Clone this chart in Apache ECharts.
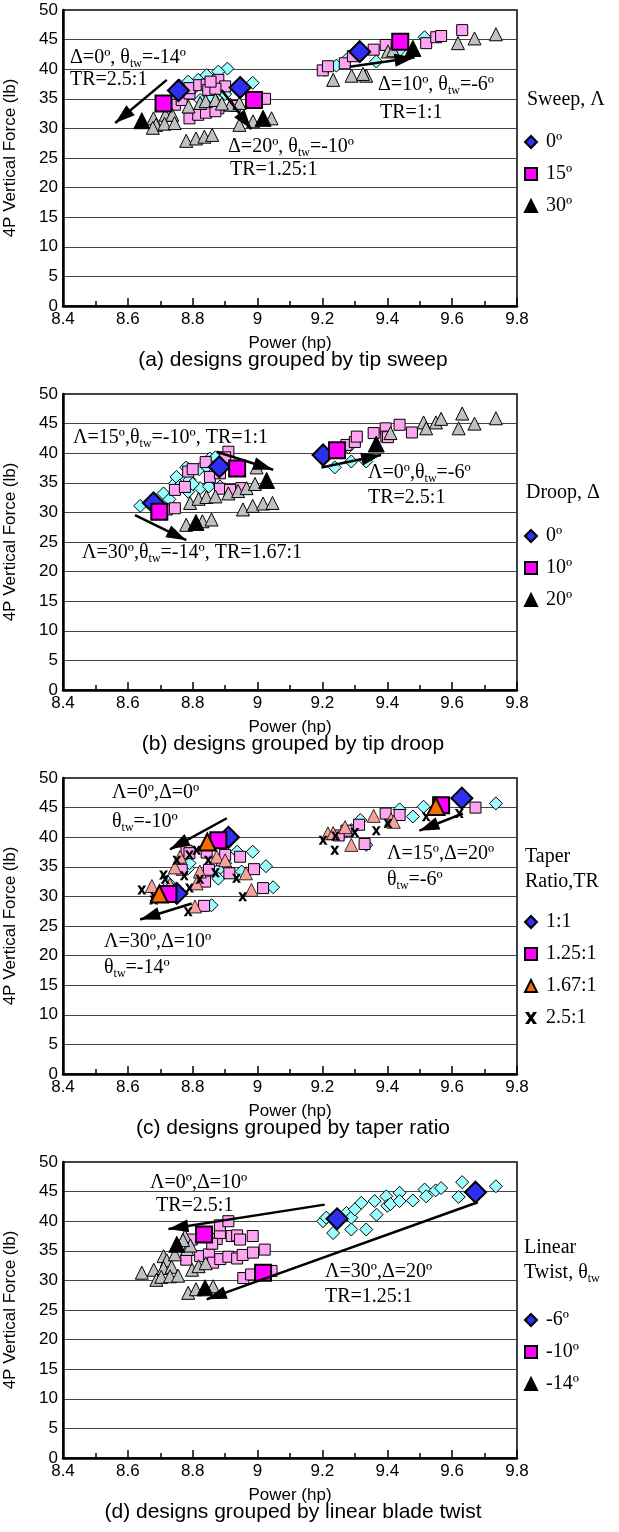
<!DOCTYPE html>
<html>
<head>
<meta charset="utf-8">
<title>4P vertical force vs power</title>
<script src="https://cdn.jsdelivr.net/npm/echarts@6/dist/echarts.min.js"></script>
<style>
  html, body { margin: 0; padding: 0; background: #fff; }
  #chart { width: 619px; height: 1532px; }
</style>
</head>
<body>
<div id="chart"></div>
<script>
// axes
const powerMin = 8.4, powerMax = 9.8, powerStep = 0.2;
const forceMin = 0, forceMax = 50, forceStep = 5;

// (a) tip sweep  [power hp, force lb]
const sweep0Small = [[8.907,40.1],[8.879,39.6],[8.843,39.0],[8.817,38.2],[8.786,37.9],[8.985,37.7],[8.884,36.5],[8.823,34.8],[8.86,35.2],[8.80,36.6],[8.76,37.2],[8.84,37.5],[8.90,35.8],
  [9.207,39.9],[9.243,40.6],[9.274,41.6],[9.366,41.3],[9.438,43.2],[9.515,45.4],[9.30,42.3]];
const sweep0Big = [[8.756,36.4],[8.946,36.9],[9.315,42.96]];
const sweep15Small = [[8.745,34.0],[8.766,34.8],[8.79,35.9],[8.79,36.8],[8.82,37.3],[8.843,37.4],[8.848,36.5],[8.879,38.2],[8.90,37.1],[8.87,36.7],[8.79,31.7],[8.817,32.3],[8.841,32.65],[8.879,33.4],[8.87,32.9],[8.93,33.8],[9.023,35.0],[8.855,37.9],
  [9.201,39.8],[9.217,40.5],[9.269,41.0],[9.294,42.2],[9.358,43.3],[9.395,44.1],[9.52,44.4],[9.551,45.4],[9.566,45.6],[9.631,46.6]];
const sweep15Big = [[8.71,34.2],[8.989,34.8],[9.44,44.65]];
const sweep30Small = [[8.679,31.7],[8.716,32.3],[8.737,32.3],[8.687,30.6],[8.713,30.8],[8.744,30.9],[8.677,30.1],[8.787,33.7],[8.823,34.3],[8.84,34.6],[8.87,34.8],[8.917,34.0],[8.944,34.3],[8.89,34.2],[8.78,27.9],[8.81,28.3],[8.836,28.6],[8.86,28.9],[8.944,30.6],[8.986,31.2],[9.043,31.7],
  [9.233,38.2],[9.29,38.9],[9.335,38.9],[9.325,39.2],[9.402,43.0],[9.418,43.2],[9.618,44.4],[9.669,45.2],[9.735,45.9]];
const sweep30Big = [[8.643,31.3],[9.017,31.7],[9.479,43.5]];
const sweepArrows = [[[8.72,38.2],[8.561,30.9]],[[8.889,36.5],[8.981,29.85]],[[9.284,40.4],[9.484,41.99]]];

// (b) tip droop
const droop0Small = [[8.638,31.1],[8.71,33.2],[8.728,32.2],[8.745,34.9],[8.75,36.0],[8.78,37.6],[8.79,35.5],[8.82,37.3],[8.843,37.7],[8.853,39.1],[8.87,39.3],[8.786,33.5],[8.823,34.1],[8.85,34.4],[8.884,34.4],[8.76,34.5],[8.80,34.8],
  [9.238,37.6],[9.289,38.6],[9.335,38.6],[9.28,41.0],[9.25,40.2]];
const droop0Big = [[8.679,31.6],[8.882,37.7],[9.202,39.7]];
const droop10Small = [[8.72,30.5],[8.745,30.7],[8.745,33.8],[8.776,34.3],[8.786,36.9],[8.80,37.3],[8.853,36.0],[8.884,36.6],[8.91,40.25],[8.884,34.0],[8.915,33.8],[8.95,34.1],[8.84,38.5],[8.90,39.3],
  [9.274,41.4],[9.30,41.9],[9.306,42.8],[9.358,43.4],[9.395,44.2],[9.397,42.8],[9.402,42.7],[9.438,44.8],[9.476,43.5]];
const droop10Big = [[8.697,30.1],[8.937,37.4],[9.245,40.5]];
const droop20Small = [[8.792,31.6],[8.818,32.3],[8.842,32.6],[8.87,32.7],[8.91,33.2],[8.94,33.6],[8.966,34.1],[8.992,34.8],[8.78,27.9],[8.83,28.5],[8.858,28.8],[8.955,30.5],[8.985,31.1],[9.017,31.5],[9.046,31.6],[8.997,37.6],
  [9.512,45.2],[9.55,45.2],[9.566,45.8],[9.631,46.7],[9.62,44.2],[9.669,45.0],[9.735,45.9],[9.52,44.2],[9.41,43.4]];
const droop20Big = [[8.81,28.3],[9.028,35.4],[9.366,41.55]];
const droopArrows = [[[8.874,40.25],[9.048,37.2]],[[8.622,29.55],[8.78,25.3]],[[9.197,37.6],[9.381,39.7]]];

// (c) taper ratio
const tr1Small = [[8.725,32.3],[8.786,34.75],[8.79,35.6],[8.879,34.5],[8.879,33.0],[8.937,37.55],[8.985,37.55],[8.951,34.2],[9.026,35.1],[9.048,31.55],[8.858,28.5],[8.90,35.6],
  [9.289,41.2],[9.317,42.9],[9.438,44.7],[9.479,43.5],[9.512,45.15],[9.735,45.7],[9.335,38.7],[9.27,40.9]];
const tr1Big = [[8.751,30.5],[8.91,39.98],[9.63,46.6]];
const tr125Small = [[8.781,37.7],[8.79,37.3],[8.766,34.5],[8.843,37.4],[8.85,34.5],[8.838,32.5],[8.89,36.1],[8.9,37.0],[8.913,33.9],[8.946,36.7],[8.989,34.6],[9.017,31.4],[8.835,28.4],
  [9.274,41.1],[9.313,42.1],[9.395,44.0],[9.438,43.75],[9.33,38.85],[9.672,45.0],[9.25,40.3]];
const tr125Big = [[8.725,30.4],[8.879,39.5],[9.566,45.4]];
const tr167Small = [[8.674,31.75],[8.745,34.9],[8.761,36.7],[8.812,32.2],[8.822,34.2],[8.874,36.7],[8.9,36.1],[8.964,33.9],[8.981,31.1],[8.807,28.3],[8.73,32.0],
  [9.217,40.65],[9.233,40.7],[9.27,41.7],[9.358,43.6],[9.412,43.0],[9.289,38.7],[9.42,42.6]];
const tr167Big = [[8.697,30.4],[8.845,39.2],[9.55,45.2]];
const tr25Small = [[8.643,31.1],[8.681,30.0],[8.68,29.4],[8.71,33.6],[8.715,32.9],[8.751,36.1],[8.79,37.0],[8.812,37.8],[8.848,36.1],[8.79,31.4],[8.774,33.5],[8.822,32.9],[8.87,34.0],[8.935,33.05],[8.954,29.95],[8.786,27.4],
  [9.202,39.5],[9.238,37.8],[9.24,40.2],[9.366,41.1],[9.402,42.3],[9.52,43.45],[9.622,44.0],[9.30,40.8]];
const taperArrows = [[[8.905,43.2],[8.73,37.95]],[[8.797,28.8],[8.638,26.1]],[[9.633,44.0],[9.499,41.1]]];

// (d) linear blade twist
const tw6Small = [[9.202,40.0],[9.212,40.6],[9.233,38.0],[9.274,41.4],[9.289,38.6],[9.289,40.6],[9.3,42.0],[9.32,43.1],[9.335,38.6],[9.361,43.4],[9.367,41.1],[9.397,44.2],[9.4,42.6],[9.41,42.9],[9.438,44.8],[9.438,43.4],[9.479,43.5],[9.515,45.35],[9.52,44.2],[9.549,45.2],[9.566,45.6],[9.62,44.1],[9.631,46.6],[9.735,45.9]];
const tw6Big = [[9.245,40.4],[9.672,44.9]];
const tw10Small = [[8.797,36.9],[8.874,37.0],[8.884,38.0],[8.884,39.3],[8.91,40.0],[8.92,37.5],[8.937,37.6],[8.946,36.9],[8.985,37.5],[8.78,33.5],[8.823,34.1],[8.85,34.4],[8.863,33.0],[8.885,33.6],[8.91,34.0],[8.937,33.7],[8.954,34.3],[8.986,34.7],[9.022,35.2],[8.86,36.2],[8.83,37.4],[8.956,30.4],[8.98,31.0],[9.043,31.6]];
const tw10Big = [[8.835,37.75],[9.017,31.3]];
const tw14Small = [[8.643,31.3],[8.68,31.8],[8.688,30.1],[8.71,34.1],[8.72,33.4],[8.71,32.1],[8.735,32.3],[8.703,30.6],[8.73,30.7],[8.755,30.8],[8.745,34.4],[8.776,37.5],[8.783,35.3],[8.793,35.9],[8.798,31.8],[8.818,32.4],[8.84,32.9],[8.786,27.9],[8.81,28.5],[8.863,29.0],[8.77,36.8]];
const tw14Big = [[8.751,36.1],[8.838,28.75]];
const twistArrows = [[[9.207,42.8],[8.725,38.7]],[[9.679,43.2],[8.843,26.8]]];

const captions = ['(a) designs grouped by tip sweep', '(b) designs grouped by tip droop',
  '(c) designs grouped by taper ratio', '(d) designs grouped by linear blade twist'];

// layout
const SANS = 'Liberation Sans, Arial, sans-serif';
const SERIF = 'Liberation Serif, Times New Roman, serif';
const panelTop = [10, 394, 778, 1162];
const plotLeft = 63, plotW = 454, plotH = 296;
const legendTop = [132, 526, 912, 1310];

const BLUE = '#2f2ff2', MAGENTA = '#ff00ff', BLACK = '#000', ORANGE = '#ff6a00';
const CYAN = '#9cffff', PINK = '#ffa4f2', GRAY = '#c0c0c0', SALMON = '#f6a39c';
const XMARK = 'path://M0,0H3.2L5,3L6.8,0H10L6.6,5L10,10H6.8L5,7L3.2,10H0L3.4,5Z';
const ARROW = 'path://M5,-20M5,0L10,20L0,20Z';

function pts(p, name, data, symbol, size, color, bw) {
  return {
    type: 'scatter', name, xAxisIndex: p, yAxisIndex: p, data, symbol, symbolSize: size,
    itemStyle: { color, borderColor: '#000', borderWidth: bw, opacity: 1 },
    emphasis: { disabled: true }, silent: true, animation: false
  };
}
function arrows(p, list) {
  return {
    type: 'lines', coordinateSystem: 'cartesian2d', xAxisIndex: p, yAxisIndex: p,
    data: list.map(c => ({ coords: c })),
    symbol: ['none', ARROW], symbolSize: [1, [13, 40]],
    lineStyle: { color: '#000', width: 2.5, opacity: 1 },
    silent: true, animation: false, z: 5
  };
}

const series = [
  pts(0, '0º a', sweep0Small, 'diamond', 13, CYAN, 1),
  pts(0, '15º a', sweep15Small, 'rect', 11, PINK, 1),
  pts(0, '30º a', sweep30Small, 'triangle', 13, GRAY, 1),
  pts(0, '0º', sweep0Big, 'diamond', 21, BLUE, 2),
  pts(0, '15º', sweep15Big, 'rect', 16, MAGENTA, 2),
  pts(0, '30º', sweep30Big, 'triangle', 16, BLACK, 1),
  arrows(0, sweepArrows),

  pts(1, '0º b', droop0Small, 'diamond', 13, CYAN, 1),
  pts(1, '10º b', droop10Small, 'rect', 11, PINK, 1),
  pts(1, '20º b', droop20Small, 'triangle', 13, GRAY, 1),
  pts(1, '0º', droop0Big, 'diamond', 21, BLUE, 2),
  pts(1, '10º', droop10Big, 'rect', 16, MAGENTA, 2),
  pts(1, '20º', droop20Big, 'triangle', 16, BLACK, 1),
  arrows(1, droopArrows),

  pts(2, '1:1 c', tr1Small, 'diamond', 13, CYAN, 1),
  pts(2, '1.25:1 c', tr125Small, 'rect', 11, PINK, 1),
  pts(2, '1.67:1 c', tr167Small, 'triangle', 13, SALMON, 0.8),
  pts(2, '2.5:1', tr25Small, XMARK, 9, BLACK, 0),
  pts(2, '1:1', tr1Big, 'diamond', 21, BLUE, 2),
  pts(2, '1.25:1', tr125Big, 'rect', 16, MAGENTA, 2),
  pts(2, '1.67:1', tr167Big, 'triangle', 17, ORANGE, 2),
  arrows(2, taperArrows),

  pts(3, '-6º d', tw6Small, 'diamond', 13, CYAN, 1),
  pts(3, '-10º d', tw10Small, 'rect', 11, PINK, 1),
  pts(3, '-14º d', tw14Small, 'triangle', 13, GRAY, 1),
  pts(3, '-6º', tw6Big, 'diamond', 21, BLUE, 2),
  pts(3, '-10º', tw10Big, 'rect', 16, MAGENTA, 2),
  pts(3, '-14º', tw14Big, 'triangle', 16, BLACK, 1),
  arrows(3, twistArrows)
];

const legendNames = [['0º', '15º', '30º'], ['0º', '10º', '20º'],
  ['1:1', '1.25:1', '1.67:1', '2.5:1'], ['-6º', '-10º', '-14º']];

// annotation texts: [text, left x, middle y]
const notes = [
  ['Δ=0º, θtw=-14º', 70, 58], ['TR=2.5:1', 70, 80],
  ['Δ=20º, θtw=-10º', 228, 147], ['TR=1.25:1', 230, 170],
  ['Δ=10º, θtw=-6º', 378, 85], ['TR=1:1', 380, 113],
  ['Λ=15º,θtw=-10º, TR=1:1', 73, 438], ['Λ=30º,θtw=-14º, TR=1.67:1', 82, 553],
  ['Λ=0º,θtw=-6º', 368, 473], ['TR=2.5:1', 368, 498],
  ['Λ=0º,Δ=0º', 112, 793], ['θtw=-10º', 112, 822],
  ['Λ=30º,Δ=10º', 104, 942], ['θtw=-14º', 104, 968],
  ['Λ=15º,Δ=20º', 387, 854], ['θtw=-6º', 387, 880],
  ['Λ=0º,Δ=10º', 150, 1183], ['TR=2.5:1', 156, 1206],
  ['Λ=30º,Δ=20º', 325, 1272], ['TR=1.25:1', 325, 1297],
  // legend titles
  ['Sweep, Λ', 527, 100], ['Droop, Δ', 526, 493],
  ['Taper', 525, 857], ['Ratio,TR', 525, 882],
  ['Linear', 524, 1248], ['Twist, θtw', 524, 1273]
];

function richify(s) {
  return '{n|' + s.replace(/θtw/g, 'θ}{s|tw}{n|') + '}';
}
const rich = {
  n: { fontFamily: SERIF, fontSize: 20, lineHeight: 24, fill: '#000' },
  s: { fontFamily: SERIF, fontSize: 12, lineHeight: 12, verticalAlign: 'bottom', fill: '#000' }
};

const graphic = notes.map(([t, x, y]) => ({
  type: 'text', x, y, silent: true,
  style: { text: richify(t), rich, align: 'left', verticalAlign: 'middle' }
})).concat(captions.map((c, i) => ({
  type: 'text', x: 293, y: panelTop[i] + 350, silent: true,
  style: { text: c, font: '21px ' + SANS, fill: '#000', align: 'center', verticalAlign: 'middle' }
})));

const labelStyle = { fontFamily: SANS, fontSize: 17, color: '#000' };

const option = {
  backgroundColor: '#fff',
  animation: false,
  grid: panelTop.map(t => ({
    left: plotLeft, top: t, width: plotW, height: plotH, show: true,
    borderColor: '#000', borderWidth: 1.5, backgroundColor: 'transparent',
    containLabel: false, outerBoundsMode: 'none'
  })),
  xAxis: panelTop.map((t, i) => ({
    gridIndex: i, type: 'value', min: powerMin, max: powerMax, interval: powerStep,
    name: 'Power (hp)', nameLocation: 'middle', nameGap: 29, nameTextStyle: labelStyle,
    axisLine: { show: true, onZero: false, lineStyle: { color: '#000', width: 2.5 } },
    axisTick: { show: true, inside: true, length: 8, lineStyle: { color: '#000', width: 1.5 } },
    minorTick: { show: true, splitNumber: 2, length: 5, lineStyle: { color: '#000', width: 1.5 } },
    splitLine: { show: false },
    axisLabel: Object.assign({ margin: 5, showMinLabel: true, showMaxLabel: true }, labelStyle)
  })),
  yAxis: panelTop.map((t, i) => ({
    gridIndex: i, type: 'value', min: forceMin, max: forceMax, interval: forceStep,
    name: '4P Vertical Force (lb)', nameLocation: 'middle', nameGap: 44, nameTextStyle: labelStyle,
    axisLine: { show: true, onZero: false, lineStyle: { color: '#000', width: 2.5 } },
    axisTick: { show: false },
    splitLine: { show: true, lineStyle: { color: '#444', width: 1.2 } },
    axisLabel: Object.assign({ margin: 5, showMinLabel: true, showMaxLabel: true }, labelStyle)
  })),
  legend: legendNames.map((names, i) => ({
    data: names, orient: 'vertical', left: 524, top: legendTop[i], padding: 0,
    itemWidth: 12, itemHeight: 12, itemGap: 12, selectedMode: false,
    textStyle: { fontFamily: SERIF, fontSize: 20, color: '#000', lineHeight: 12, padding: [0, 0, 0, 4] }
  })),
  graphic,
  series
};

const chart = echarts.init(document.getElementById('chart'), null, { renderer: 'canvas' });
chart.setOption(option);
window.addEventListener('resize', () => chart.resize());
</script>
</body>
</html>
